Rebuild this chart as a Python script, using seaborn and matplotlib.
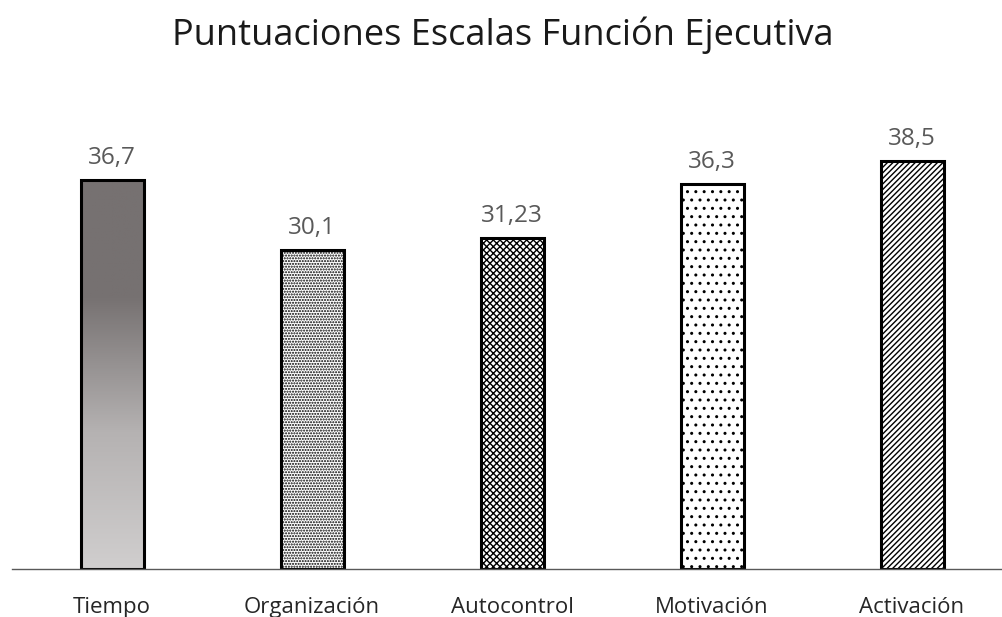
import numpy as np
import pandas as pd
import matplotlib
matplotlib.use("Agg")
import matplotlib.pyplot as plt
import seaborn as sns
from matplotlib.colors import LinearSegmentedColormap

categories = ["Tiempo", "Organización", "Autocontrol", "Motivación", "Activación"]
values = [36.7, 30.1, 31.23, 36.3, 38.5]
value_labels = ["36,7", "30,1", "31,23", "36,3", "38,5"]
title = "Puntuaciones Escalas Función Ejecutiva"

sns.set_style("white")
plt.rcParams['font.family'] = ['Open Sans', 'DejaVu Sans']
plt.rcParams['hatch.linewidth'] = 1.0
plt.rcParams['hatch.color'] = 'black'

fig = plt.figure(figsize=(10.02, 6.17), dpi=100)
ax = fig.add_axes([12/1002, 48/617, 990/1002, 477/617])

df = pd.DataFrame({"cat": categories, "val": values})
sns.barplot(data=df, x="cat", y="val", hue="cat", palette=["white"]*5,
            width=0.315, edgecolor="black", linewidth=2.2, legend=False, ax=ax,
            saturation=1)

hatches = [None, "......", "xxxxx", "..", "//////"]
patches = [p for p in ax.patches]
for p, h in zip(patches, hatches):
    if h:
        p.set_hatch(h)

ax.set_xlim(-0.5, 4.45)
ax.set_ylim(0, 45)

# gradient fill for first bar
p0 = patches[0]
x0, y0 = p0.get_x(), p0.get_y()
w, hgt = p0.get_width(), p0.get_height()
cmap = LinearSegmentedColormap.from_list("g", [(0, "#d0cece"), (0.35, "#b5b2b2"), (0.7, "#767171"), (1, "#767171")])
grad = np.linspace(0, 1, 256).reshape(-1, 1)
im = ax.imshow(grad, extent=[x0, x0 + w, y0, y0 + hgt], origin="lower",
               cmap=cmap, aspect="auto", zorder=p0.get_zorder() - 0.1)
im.set_clip_path(p0)
p0.set_facecolor("none")
ax.set_xlim(-0.5, 4.45)
ax.set_ylim(0, 45)

for p, lab in zip(patches, value_labels):
    ax.annotate(lab, (p.get_x() + p.get_width()/2, p.get_height()),
                xytext=(0, 7), textcoords="offset points", ha="center", va="bottom",
                fontsize=17.5, color="#595959")

for s in ["top", "right", "left"]:
    ax.spines[s].set_visible(False)
ax.spines["bottom"].set_color("#595959")
ax.spines["bottom"].set_linewidth(1.0)
ax.set_yticks([])
ax.set_xlabel("")
ax.set_ylabel("")
ax.tick_params(axis="x", length=0, pad=20, labelsize=16, labelcolor="#262626")

fig.suptitle(title, x=503/1002, y=1 - 35/617, va="center", fontsize=26, color="#1a1a1a")

fig.savefig("out.png", dpi=100)
